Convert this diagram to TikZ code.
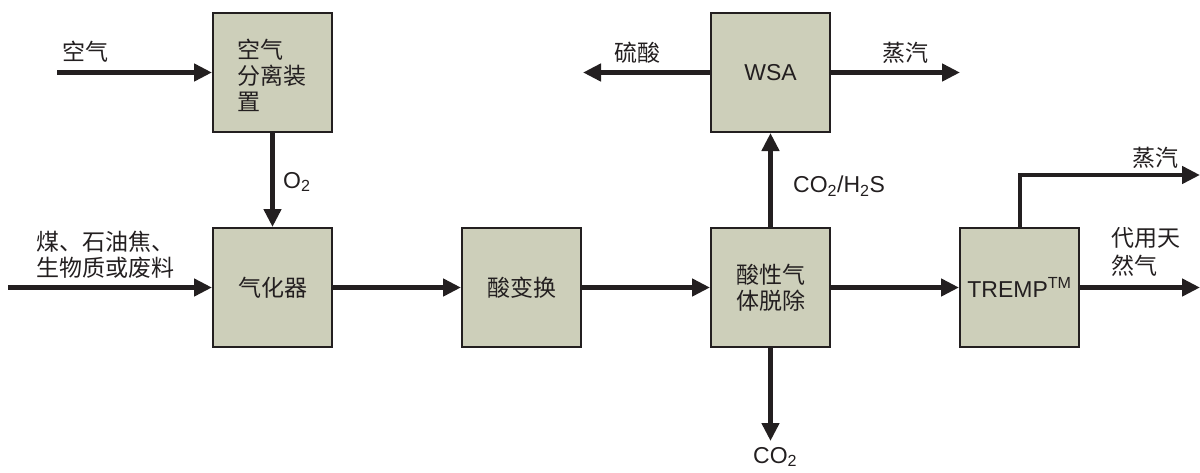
\documentclass[tikz,border=0pt]{standalone}
\usepackage{fontspec}
\setmainfont{Liberation Sans}
\newfontfamily\cjk{Noto Sans CJK SC}
\usetikzlibrary{arrows.meta}
\definecolor{boxfill}{HTML}{CDCFBA}
\definecolor{ink}{HTML}{231F20}
\begin{document}
\begin{tikzpicture}[x=1pt,y=-1pt,
  unit/.style={draw=ink,line width=2pt,fill=boxfill,minimum size=119pt,inner sep=0pt,
    font=\fontsize{23}{26}\selectfont,text=ink,align=center},
  flow/.style={draw=ink,line width=4.5pt,-{Triangle[length=18pt,width=17pt]}},
  lbl/.style={font=\fontsize{23}{26}\selectfont\cjk,inner sep=0pt,align=left,text=ink},
  lat/.style={font=\fontsize{23}{26}\selectfont,inner sep=0pt,text=ink}]
\useasboundingbox (0,0) rectangle (1200,472);
% units
\node[unit] (asu) at (272.5,72.5) {};
\node[lbl,anchor=west] (asut) at (237,75) {空气\\分离装\\置};
\node[unit] (gas) at (272.5,287.5) {\cjk 气化器};
\node[unit] (shift) at (521.5,287.5) {\cjk 酸变换};
\node[unit] (agr) at (770.5,287.5) {\cjk 酸性气\\\cjk 体脱除};
\node[unit] (wsa) at (770.5,72.5) {WSA};
\node[unit] (tremp) at (1019.5,287.5) {TREMP\textsuperscript{TM}};
% free ends
\coordinate (airin) at (57,72.5);
\coordinate (feedin) at (8,287.5);
\coordinate (acidout) at (583,72.5);
\coordinate (steamout) at (960,72.5);
\coordinate (co2out) at (770.5,441);
\coordinate (tbend) at (1020,175);
\coordinate (steam2) at (1200,175);
\coordinate (sngout) at (1200,287.5);
% connectors
\draw[flow] (airin) -- (asu.west);
\draw[flow] (asu.south) -- (gas.north);
\draw[flow] (feedin) -- (gas.west);
\draw[flow] (gas.east) -- (shift.west);
\draw[flow] (shift.east) -- (agr.west);
\draw[flow] (agr.east) -- (tremp.west);
\draw[flow] (agr.north) -- (wsa.south);
\draw[flow] (agr.south) -- (co2out);
\draw[flow] (wsa.west) -- (acidout);
\draw[flow] (wsa.east) -- (steamout);
\draw[flow] (tremp.north -| tbend) -- (tbend) -- (steam2);
\draw[flow] (tremp.east) -- (sngout);
% labels
\node[lbl,anchor=west] (lair) at (62,52) {空气};
\node[lat,anchor=west] (lo2) at (283,182) {O\textsubscript{2}};
\node[lbl,anchor=west] (lfeed) at (36,255) {煤、石油焦、\\生物质或废料};
\node[lbl,anchor=west] (lacid) at (614,53) {硫酸};
\node[lbl,anchor=west] (lsteam) at (882,53) {蒸汽};
\node[lat,anchor=west] (lco2h2s) at (793,186) {CO\textsubscript{2}/H\textsubscript{2}S};
\node[lat,anchor=west] (lco2) at (753,457) {CO\textsubscript{2}};
\node[lbl,anchor=west] (lsteam2) at (1132,158) {蒸汽};
\node[lbl,anchor=west,font=\fontsize{23}{28}\selectfont\cjk] (lsng) at (1111,251.5) {代用天\\然气};
\end{tikzpicture}
\end{document}
